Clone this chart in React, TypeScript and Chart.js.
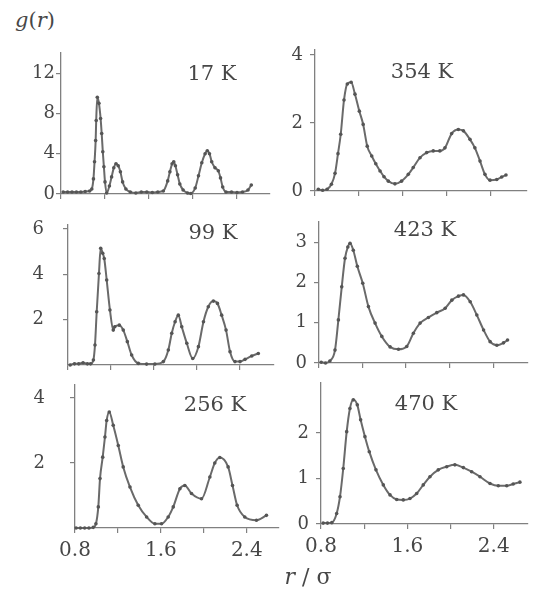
import React, { useEffect, useRef } from "react";
import { Chart, registerables } from "chart.js";

Chart.register(...registerables);

// ---------- data ----------
const temperatures = ["17 K", "354 K", "99 K", "423 K", "256 K", "470 K"];

const xTicks = [0.8, 1.2, 1.6, 2.0, 2.4];
const xTickLabels = ["0.8", "", "1.6", "", "2.4"];

const r17 = [0.82, 0.86, 0.9, 0.94, 0.98, 1.02, 1.06, 1.08, 1.095, 1.105, 1.115, 1.12, 1.13, 1.145, 1.16, 1.17, 1.18, 1.19, 1.2, 1.215, 1.24, 1.26, 1.28, 1.3, 1.32, 1.34, 1.36, 1.39, 1.43, 1.48, 1.53, 1.58, 1.63, 1.68, 1.73, 1.77, 1.79, 1.81, 1.825, 1.84, 1.86, 1.88, 1.91, 1.95, 1.98, 2.02, 2.05, 2.08, 2.11, 2.13, 2.15, 2.17, 2.2, 2.23, 2.25, 2.27, 2.3, 2.35, 2.4, 2.45, 2.5, 2.53];
const g17 = [0.2, 0.2, 0.2, 0.2, 0.2, 0.25, 0.3, 0.5, 1.5, 3.2, 5.3, 7.3, 9.6, 9.0, 7.5, 6.0, 4.2, 2.7, 1.2, 0.1, 0.8, 1.7, 2.6, 3.0, 2.8, 2.2, 1.2, 0.5, 0.2, 0.1, 0.2, 0.2, 0.15, 0.2, 0.3, 1.3, 2.2, 3.0, 3.2, 2.8, 1.9, 1.0, 0.4, 0.1, 0.05, 0.6, 1.8, 3.1, 4.0, 4.3, 4.0, 3.2, 2.6, 2.3, 1.6, 0.7, 0.2, 0.2, 0.15, 0.2, 0.4, 0.9];
const yTicks17 = [0, 4, 8, 12];
const yLabels17 = ["0", "4", "8", "12"];

const r354 = [0.83, 0.87, 0.91, 0.95, 0.983, 1.01, 1.035, 1.065, 1.095, 1.13, 1.165, 1.205, 1.24, 1.277, 1.318, 1.355, 1.394, 1.43, 1.47, 1.53, 1.59, 1.652, 1.697, 1.759, 1.82, 1.88, 1.94, 1.987, 2.048, 2.109, 2.155, 2.215, 2.26, 2.307, 2.352, 2.398, 2.46, 2.505, 2.544];
const g354 = [0.05, 0.02, 0.05, 0.2, 0.52, 1.1, 1.67, 2.68, 3.15, 3.2, 2.85, 2.35, 1.96, 1.32, 1.03, 0.8, 0.59, 0.42, 0.29, 0.21, 0.29, 0.49, 0.69, 0.98, 1.13, 1.18, 1.18, 1.27, 1.69, 1.81, 1.77, 1.52, 1.27, 0.88, 0.49, 0.32, 0.34, 0.41, 0.47];
const yTicks354 = [0, 2, 4];
const yLabels354 = ["0", "2", "4"];

const r99 = [0.82, 0.86, 0.9, 0.94, 0.98, 1.01, 1.036, 1.051, 1.067, 1.088, 1.104, 1.123, 1.137, 1.16, 1.19, 1.221, 1.235, 1.277, 1.314, 1.352, 1.392, 1.454, 1.531, 1.608, 1.687, 1.733, 1.765, 1.796, 1.826, 1.858, 1.905, 1.96, 2.013, 2.06, 2.105, 2.152, 2.19, 2.229, 2.27, 2.307, 2.353, 2.4, 2.447, 2.509, 2.57];
const g99 = [0.0, 0.05, 0.05, 0.1, 0.05, 0.05, 0.22, 0.88, 2.35, 4.04, 5.15, 4.93, 4.7, 3.75, 2.43, 1.54, 1.69, 1.76, 1.54, 1.03, 0.44, 0.07, 0.04, 0.04, 0.15, 0.66, 1.4, 1.91, 2.2, 1.69, 0.96, 0.29, 0.81, 1.91, 2.57, 2.82, 2.72, 2.2, 1.54, 0.59, 0.15, 0.15, 0.25, 0.4, 0.51];
const yTicks99 = [2, 4, 6];
const yLabels99 = ["2", "4", "6"];

const r423 = [0.82, 0.86, 0.9, 0.947, 0.978, 1.009, 1.039, 1.065, 1.085, 1.115, 1.152, 1.202, 1.254, 1.315, 1.377, 1.453, 1.53, 1.606, 1.667, 1.729, 1.805, 1.882, 1.959, 2.02, 2.081, 2.127, 2.189, 2.25, 2.312, 2.372, 2.434, 2.495, 2.532];
const g423 = [0.02, 0.0, 0.05, 0.32, 1.07, 1.89, 2.6, 2.88, 2.97, 2.8, 2.4, 1.98, 1.4, 0.99, 0.66, 0.4, 0.34, 0.41, 0.74, 0.99, 1.13, 1.25, 1.36, 1.56, 1.66, 1.69, 1.52, 1.19, 0.82, 0.53, 0.44, 0.5, 0.57];
const yTicks423 = [0, 1, 2, 3];
const yLabels423 = ["0", "1", "2", "3"];

const r256 = [0.81, 0.85, 0.89, 0.93, 0.97, 0.995, 1.017, 1.033, 1.058, 1.079, 1.095, 1.119, 1.156, 1.203, 1.249, 1.312, 1.389, 1.467, 1.544, 1.606, 1.668, 1.715, 1.777, 1.823, 1.885, 1.978, 2.056, 2.102, 2.149, 2.226, 2.267, 2.31, 2.381, 2.49, 2.583];
const g256 = [0, 0, 0, 0, 0.02, 0.13, 0.65, 1.52, 2.18, 2.8, 3.31, 3.57, 3.16, 2.54, 1.88, 1.26, 0.7, 0.34, 0.13, 0.13, 0.34, 0.65, 1.21, 1.31, 1.06, 0.9, 1.57, 2.0, 2.17, 1.88, 1.31, 0.7, 0.34, 0.24, 0.39];
const yTicks256 = [2, 4];
const yLabels256 = ["2", "4"];

const r470 = [0.82, 0.86, 0.9, 0.945, 0.976, 1.006, 1.038, 1.068, 1.099, 1.136, 1.167, 1.207, 1.247, 1.309, 1.377, 1.439, 1.501, 1.562, 1.624, 1.686, 1.747, 1.809, 1.886, 1.964, 2.04, 2.118, 2.195, 2.272, 2.365, 2.442, 2.52, 2.58, 2.642];
const g470 = [0.02, 0.02, 0.03, 0.23, 0.6, 1.22, 2.03, 2.54, 2.73, 2.62, 2.29, 1.92, 1.59, 1.19, 0.86, 0.64, 0.54, 0.53, 0.56, 0.67, 0.86, 1.04, 1.19, 1.26, 1.3, 1.24, 1.15, 1.04, 0.89, 0.84, 0.84, 0.88, 0.92];
const yTicks470 = [0, 1, 2];
const yLabels470 = ["0", "1", "2"];

// ---------- styling / layout ----------
const FONT = "'DejaVu Serif', 'Liberation Serif', serif";
const TXT = "#474747";
const AXIS = "#808080";
const LINE = "#6a6a6a";
const DOT = "#555555";

const Y_W = 56;
const PAD_T = 14;
const PAD_R = 8;
const X_H_BOTTOM = 44;
const X_H_TOP = 10;

type Spec = {
  r: number[];
  g: number[];
  yTicks: number[];
  yLabels: string[];
  box: [number, number, number, number];
  xMax: number;
  yMax: number;
  yGap: number;
  bottom: boolean;
  labelPos: [number, number];
  title: string;
};

const specs: Spec[] = [
  { r: r17, g: g17, yTicks: yTicks17, yLabels: yLabels17, box: [61, 53, 270, 194], xMax: 2.7, yMax: 14.0, yGap: 1, bottom: false, labelPos: [212, 73], title: temperatures[0] },
  { r: r354, g: g354, yTicks: yTicks354, yLabels: yLabels354, box: [315, 50, 527, 191], xMax: 2.736, yMax: 4.15, yGap: 7, bottom: false, labelPos: [422, 71], title: temperatures[1] },
  { r: r99, g: g99, yTicks: yTicks99, yLabels: yLabels99, box: [68, 225, 274, 365], xMax: 2.716, yMax: 6.18, yGap: 19, bottom: false, labelPos: [213, 232], title: temperatures[2] },
  { r: r423, g: g423, yTicks: yTicks423, yLabels: yLabels423, box: [319, 222, 528, 363], xMax: 2.72, yMax: 3.5, yGap: 7, bottom: false, labelPos: [425, 229], title: temperatures[3] },
  { r: r256, g: g256, yTicks: yTicks256, yLabels: yLabels256, box: [75, 385, 279, 528], xMax: 2.7, yMax: 4.4, yGap: 25, bottom: true, labelPos: [215, 404], title: temperatures[4] },
  { r: r470, g: g470, yTicks: yTicks470, yLabels: yLabels470, box: [321, 383, 528, 524], xMax: 2.717, yMax: 3.1, yGap: 7, bottom: true, labelPos: [426, 403], title: temperatures[5] },
];

function Panel({ spec }: { spec: Spec }) {
  const ref = useRef<HTMLCanvasElement>(null);
  const [L, T, R, B] = spec.box;
  const xh = spec.bottom ? X_H_BOTTOM : X_H_TOP;
  const cw = Y_W + (R - L) + PAD_R;
  const ch = PAD_T + (B - T) + xh;

  useEffect(() => {
    const pts = spec.r.map((x, i) => ({ x, y: spec.g[i] }));
    const chart = new Chart(ref.current as HTMLCanvasElement, {
      type: "line",
      data: {
        datasets: [
          {
            data: pts,
            borderColor: LINE,
            borderWidth: 2,
            pointRadius: 1.8,
            pointBackgroundColor: DOT,
            pointBorderWidth: 0,
            cubicInterpolationMode: "monotone",
            fill: false,
            clip: false as any,
          },
        ],
      },
      options: {
        responsive: false,
        animation: false,
        devicePixelRatio: 1,
        events: [],
        layout: { padding: { top: PAD_T, right: PAD_R, left: 0, bottom: 0 } },
        plugins: { legend: { display: false }, tooltip: { enabled: false } },
        scales: {
          x: {
            type: "linear",
            min: 0.8,
            max: spec.xMax,
            afterBuildTicks: (s: any) => {
              s.ticks = xTicks.map((v) => ({ value: v }));
            },
            afterFit: (s: any) => {
              s.height = xh;
              s.paddingLeft = 0;
              s.paddingRight = 0;
            },
            border: { display: true, color: AXIS, width: 1.3 },
            grid: { drawOnChartArea: false, drawTicks: true, tickLength: 5, color: AXIS, lineWidth: 1.2 },
            ticks: {
              display: spec.bottom,
              autoSkip: false,
              maxRotation: 0,
              padding: 6,
              color: TXT,
              font: { family: FONT, size: 20 },
              callback: (_v: any, i: number) => xTickLabels[i],
            },
          },
          y: {
            type: "linear",
            min: 0,
            max: spec.yMax,
            afterBuildTicks: (s: any) => {
              s.ticks = spec.yTicks.map((v) => ({ value: v }));
            },
            afterFit: (s: any) => {
              s.width = Y_W;
              s.paddingTop = 0;
              s.paddingBottom = 0;
            },
            border: { display: true, color: AXIS, width: 1.3 },
            grid: { drawOnChartArea: false, drawTicks: true, tickLength: 5, color: AXIS, lineWidth: 1.2 },
            ticks: {
              autoSkip: false,
              padding: spec.yGap,
              color: TXT,
              font: { family: FONT, size: 18 },
              callback: (_v: any, i: number) => spec.yLabels[i],
            },
          },
        },
      },
    });
    return () => chart.destroy();
  }, []);

  return (
    <canvas
      ref={ref}
      width={cw}
      height={ch}
      style={{ position: "absolute", left: L - Y_W, top: T - PAD_T, width: cw, height: ch }}
    />
  );
}

function Label({ x, y, size, children }: { x: number; y: number; size: number; children: any }) {
  return (
    <div
      style={{
        position: "absolute",
        left: x,
        top: y,
        transform: "translate(-50%, -50%)",
        fontFamily: FONT,
        fontSize: size,
        color: TXT,
        whiteSpace: "nowrap",
        lineHeight: 1,
      }}
    >
      {children}
    </div>
  );
}

export default function App() {
  return (
    <div
      style={{
        position: "absolute",
        left: 0,
        top: 0,
        width: 535,
        height: 596,
        background: "#ffffff",
        overflow: "hidden",
      }}
    >
      {specs.map((s, i) => (
        <Panel key={i} spec={s} />
      ))}
      {specs.map((s, i) => (
        <Label key={"t" + i} x={s.labelPos[0]} y={s.labelPos[1]} size={21}>
          {s.title}
        </Label>
      ))}
      <Label x={35} y={20} size={21}>
        <i>g</i>(<i>r</i>)
      </Label>
      <Label x={308} y={577} size={22}>
        <i>r</i> / σ
      </Label>
    </div>
  );
}
